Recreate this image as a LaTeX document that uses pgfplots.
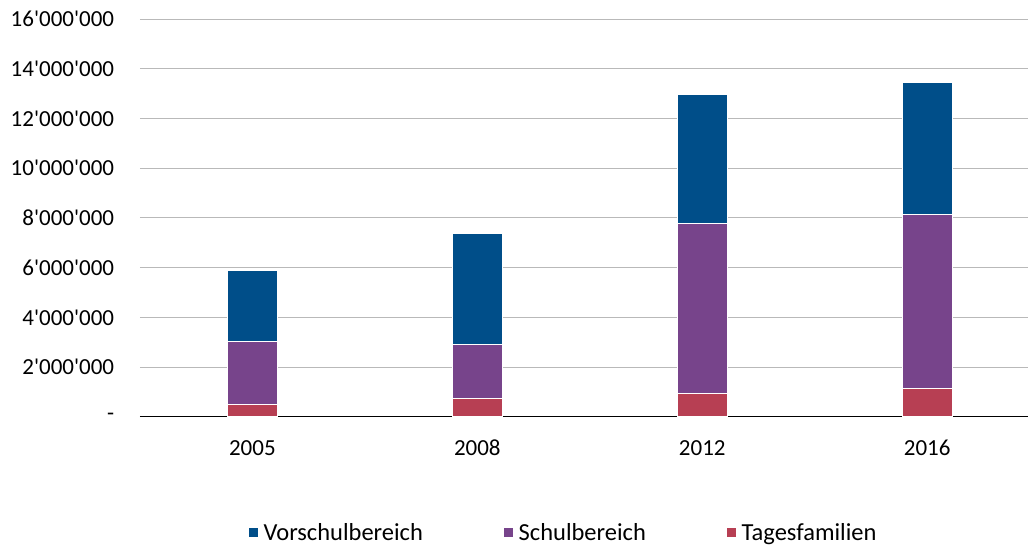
\documentclass[border=0pt]{standalone}
\usepackage{fontspec}
\setmainfont{Carlito}[Ligatures=TeXOff]
\usepackage{pgfplots}
\pgfplotsset{compat=1.18}

\definecolor{vorschul}{HTML}{004E89}
\definecolor{schul}{HTML}{77448B}
\definecolor{tages}{HTML}{B73F53}

\begin{document}
\fontsize{23}{28}\selectfont
\begin{tikzpicture}
  \begin{axis}[
    at={(0pt,0pt)}, anchor=south west,
    width=889pt, height=398pt, scale only axis,
    ybar stacked, bar width=50pt,
    xmin=-0.5, xmax=3.45,
    ymin=0, ymax=16000000,
    xtick={0,1,2,3},
    xticklabels={2005,2008,2012,2016},
    ytick={0,2000000,4000000,6000000,8000000,10000000,12000000,14000000,16000000},
    yticklabels={-,2'000'000,4'000'000,6'000'000,8'000'000,10'000'000,12'000'000,14'000'000,16'000'000},
    scaled y ticks=false,
    axis lines*=left,
    y axis line style={draw=none},
    x axis line style={black, line width=1.2pt},
    tick style={draw=none},
    ymajorgrids, major grid style={gray!55, line width=0.9pt},
    ticklabel style={font=\fontsize{23}{28}\selectfont},
    yticklabel style={xshift=-18pt},
    xticklabel style={anchor=base, yshift=-39pt},
    legend style={at={(0.478,-0.293)}, anchor=center, draw=none,
      legend columns=-1, font=\fontsize{24.5}{29}\selectfont,
      nodes={inner sep=5pt},
      /tikz/every even column/.append style={column sep=75pt}},
    legend image code/.code={\fill[#1] (0pt,-4pt) rectangle (10pt,6pt);},
    reverse legend,
  ]
    \addplot[fill=tages, draw=white, line width=0.8pt] coordinates {(0,480000) (1,750000) (2,950000) (3,1130000)};
    \addplot[fill=schul, draw=white, line width=0.8pt] coordinates {(0,2550000) (1,2170000) (2,6840000) (3,6990000)};
    \addplot[fill=vorschul, draw=white, line width=0.8pt] coordinates {(0,2850000) (1,4440000) (2,5160000) (3,5320000)};
    \legend{Tagesfamilien,Schulbereich,Vorschulbereich}
  \end{axis}
  \path[use as bounding box] (-140pt,-130pt) rectangle (889pt,417pt);
\end{tikzpicture}
\end{document}
